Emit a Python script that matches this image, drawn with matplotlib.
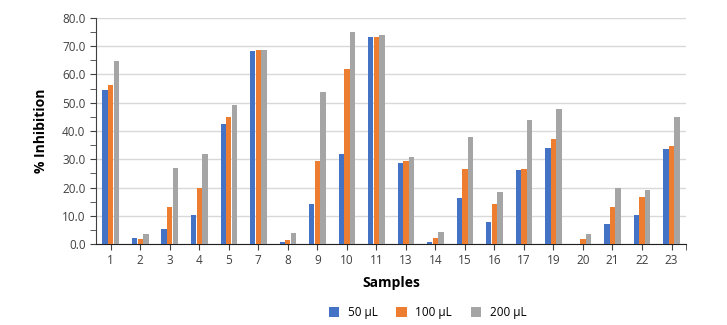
import matplotlib.pyplot as plt
import numpy as np
from matplotlib.ticker import MultipleLocator, FormatStrFormatter

plt.rcParams["font.family"] = ["Open Sans", "DejaVu Sans"]

samples = ["1", "2", "3", "4", "5", "7", "8", "9", "10", "11",
           "13", "14", "15", "16", "17", "19", "20", "21", "22", "23"]
inh_50 = [54.6, 2.1, 5.3, 10.3, 42.4, 68.4, 0.9, 14.2, 32.0, 73.2,
          28.7, 0.7, 16.4, 7.9, 26.1, 34.0, 0.0, 7.2, 10.4, 33.6]
inh_100 = [56.4, 1.9, 13.2, 19.7, 45.0, 68.8, 1.3, 29.5, 61.8, 73.2,
           29.5, 2.0, 26.4, 14.2, 26.4, 37.0, 1.9, 13.2, 16.8, 34.6]
inh_200 = [64.9, 3.4, 27.0, 32.0, 49.2, 68.8, 3.8, 53.7, 75.0, 73.9,
           30.8, 4.1, 37.8, 18.5, 44.0, 47.8, 3.5, 19.8, 19.1, 45.0]
series_names = ["50 \u00b5L", "100 \u00b5L", "200 \u00b5L"]
colors = ["#4472C4", "#ED7D31", "#A5A5A5"]

fig = plt.figure(figsize=(7.27, 3.25), dpi=100)
ax = fig.add_axes([0.132, 0.249, 0.812, 0.696])

x = np.arange(len(samples))
w = 0.18
for i, (vals, name, c) in enumerate(zip([inh_50, inh_100, inh_200], series_names, colors)):
    ax.bar(x + (i - 1) * (w + 0.01), vals, width=w, color=c, label=name, zorder=3)

ax.set_xlim(-0.5, len(samples) - 0.5)
ax.set_ylim(0, 80)
ax.yaxis.set_major_locator(MultipleLocator(10))
ax.yaxis.set_minor_locator(MultipleLocator(5))
ax.yaxis.set_major_formatter(FormatStrFormatter("%.1f"))
ax.grid(axis="y", color="#d9d9d9", linewidth=1, zorder=0)

ax.set_xticks(x)
ax.set_xticklabels(samples)
ax.set_xticks([len(samples) - 0.5], minor=True)

for s in ["top", "right"]:
    ax.spines[s].set_visible(False)
ax.spines["left"].set_color("#404040")
ax.spines["bottom"].set_color("#202020")
ax.tick_params(axis="both", which="both", direction="out", length=4,
               color="#404040", labelsize=8.5, labelcolor="#404040")
ax.tick_params(axis="y", which="minor", length=4)

ax.set_xlabel("Samples", fontsize=10, fontweight="bold", labelpad=6)
ax.set_ylabel("% Inhibition", fontsize=10, fontweight="bold", labelpad=10)

fig.legend(loc="center", bbox_to_anchor=(0.588, 0.038), ncol=3, frameon=False,
           fontsize=8.5, handlelength=0.9, handleheight=0.9, columnspacing=1.6,
           handletextpad=0.7)

fig.savefig("out.png", dpi=100)
